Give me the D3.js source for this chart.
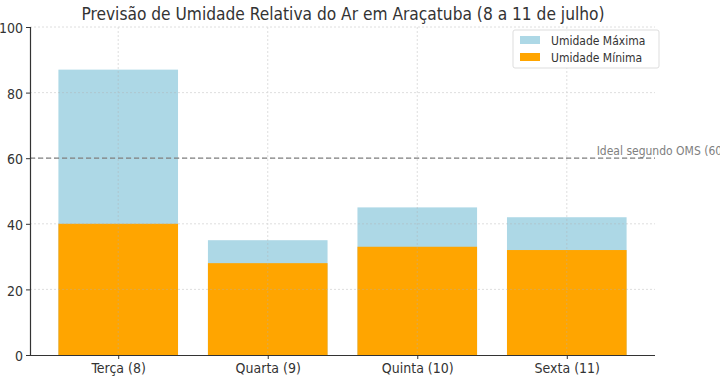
<!DOCTYPE html>
<html><head><meta charset="utf-8">
<script src="https://cdn.jsdelivr.net/npm/d3@7"></script>
<style>body{margin:0;background:#fff}svg{display:block}text{font-family:"DejaVu Sans Condensed","DejaVu Sans",sans-serif;font-stretch:condensed}</style>
</head><body><div id="c"></div>
<script>
const categories = ["Terça (8)", "Quarta (9)", "Quinta (10)", "Sexta (11)"];
const maxValues = [87, 35, 45, 42];
const minValues = [40, 28, 33, 32];
const yTicks = [0, 20, 40, 60, 80, 100];
const idealValue = 60;
const title = "Previsão de Umidade Relativa do Ar em Araçatuba (8 a 11 de julho)";
const idealLabel = "Ideal segundo OMS (60%)";
const legendLabels = ["Umidade Máxima", "Umidade Mínima"];

const W = 720, H = 380;
const m = {l: 30, r: 65, t: 27, b: 25};
const svg = d3.select("#c").append("svg").attr("width", W).attr("height", H);

const x = d3.scaleLinear().domain([-0.59, categories.length - 1 + 0.59]).range([m.l, W - m.r]);
const y = d3.scaleLinear().domain([0, 100]).range([H - m.b, m.t]);
const bw = x(0.4) - x(-0.4);
const colMax = "#add8e6", colMin = "#ffa500";

svg.append("g").selectAll("rect").data(maxValues).join("rect")
  .attr("x", (d, i) => x(i) - bw / 2).attr("width", bw)
  .attr("y", d => y(d)).attr("height", d => y(0) - y(d)).attr("fill", colMax);
svg.append("g").selectAll("rect").data(minValues).join("rect")
  .attr("x", (d, i) => x(i) - bw / 2).attr("width", bw)
  .attr("y", d => y(d)).attr("height", d => y(0) - y(d)).attr("fill", colMin);

const grid = svg.append("g").attr("stroke", "#b0b0b0").attr("stroke-dasharray", "2,2").attr("stroke-width", 0.8).attr("opacity", 0.5);
grid.selectAll(".gy").data(yTicks.filter(t => t > 0)).join("line")
  .attr("x1", m.l).attr("x2", W - m.r).attr("y1", d => y(d)).attr("y2", d => y(d));
grid.selectAll(".gx").data(categories).join("line")
  .attr("x1", (d, i) => x(i)).attr("x2", (d, i) => x(i)).attr("y1", y(100)).attr("y2", y(0));

svg.append("line").attr("x1", m.l).attr("x2", W - m.r).attr("y1", y(idealValue)).attr("y2", y(idealValue))
  .attr("stroke", "#808080").attr("stroke-width", 1.2).attr("stroke-dasharray", "5,3");
svg.append("text").attr("x", x(3.2)).attr("y", y(idealValue) - 3).attr("fill", "#808080")
  .attr("font-size", 12).text(idealLabel);

const yAxis = d3.axisLeft(y).tickValues(yTicks).tickSize(4).tickPadding(3);
const gy = svg.append("g").attr("transform", `translate(${m.l},0)`).call(yAxis);
const xAxis = d3.axisBottom(x).tickValues(d3.range(categories.length)).tickFormat(i => categories[i]).tickSize(4).tickPadding(4);
const gx = svg.append("g").attr("transform", `translate(0,${H - m.b})`).call(xAxis);
[gx, gy].forEach(g => {
  g.select(".domain").attr("stroke", "#333").attr("stroke-width", 1.2);
  g.selectAll(".tick line").attr("stroke", "#333");
  g.selectAll("text").attr("font-size", 14).attr("fill", "#333")
    .style("font-family", '"DejaVu Sans Condensed","DejaVu Sans",sans-serif').style("font-stretch", "condensed");
});
gy.selectAll("text").attr("dy", "0.4em");
gx.select(".domain").attr("d", `M${m.l},0.5H${W - m.r}`);
gy.select(".domain").attr("d", `M0.5,${y(0)}V${y(100)}`);

svg.append("text").attr("x", 343).attr("y", 20).attr("text-anchor", "middle")
  .attr("font-size", 17.2).attr("fill", "#333").text(title);

const lg = svg.append("g").attr("transform", "translate(513,30)");
lg.append("rect").attr("width", 146).attr("height", 38).attr("rx", 2).attr("fill", "#fff").attr("fill-opacity", 0.8)
  .attr("stroke", "#ddd");
[colMax, colMin].forEach((c, i) => {
  lg.append("rect").attr("x", 7).attr("y", 6 + i * 17).attr("width", 20).attr("height", 8).attr("fill", c);
  lg.append("text").attr("x", 38).attr("y", 14.5 + i * 17).attr("font-size", 12).attr("fill", "#333").text(legendLabels[i]);
});
</script></body></html>
